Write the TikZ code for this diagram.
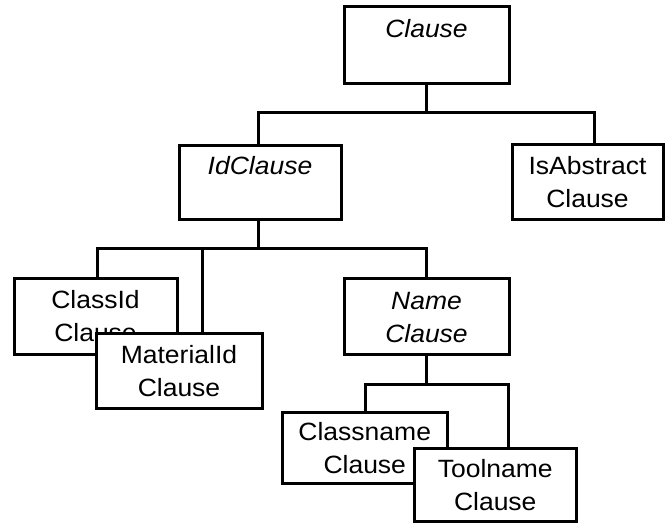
\documentclass[tikz,border=0pt]{standalone}
\usepackage{fontspec}
\setmainfont{Liberation Sans}[FakeStretch=1.06]
\newcommand\mystrut{\rule[-7.5pt]{0pt}{33pt}}
\begin{document}
\begin{tikzpicture}[x=1pt,y=-1pt,
  box/.style={draw,line width=3pt,fill=white,inner sep=0pt,align=center,
    font=\fontsize{25pt}{33pt}\selectfont},
  conn/.style={line width=3pt,line cap=rect}]
\useasboundingbox (0,0) rectangle (665,523);
% junction coordinates
\coordinate (j1) at (426,112.5);
\coordinate (j1l) at (258,112.5);
\coordinate (j1r) at (594,112.5);
\coordinate (j2) at (258,248);
\coordinate (j2l) at (97,248);
\coordinate (j2m) at (202,248);
\coordinate (j2r) at (426,248);
\coordinate (j3) at (426,384);
\coordinate (j3l) at (365.5,384);
\coordinate (j3r) at (508,384);
% connectors
\draw[conn] (j1l) -- (j1r);
\draw[conn] (j2l) -- (j2r);
\draw[conn] (j3l) -- (j3r);
\node[box,minimum width=165pt,minimum height=77pt] (clause) at (426.5,44.5) {\mystrut\textit{Clause}\\\mystrut};
\node[box,minimum width=162pt,minimum height=74pt] (idc) at (260,182) {\mystrut\textit{IdClause}\\\mystrut};
\node[box,minimum width=151pt,minimum height=75pt] (isab) at (587.5,181.5) {\mystrut IsAbstract\\\mystrut Clause};
\draw[conn] (clause.south -| j1) -- (j1);
\draw[conn] (j1l) -- (j1l |- idc.north);
\draw[conn] (j1r) -- (j1r |- isab.north);
\draw[conn] (idc.south -| j2) -- (j2);
\node[box,minimum width=165pt,minimum height=76pt] (nmc) at (426.5,316.5) {\mystrut\textit{Name}\\\mystrut\textit{Clause}};
\draw[conn] (j2r) -- (j2r |- nmc.north);
\draw[conn] (nmc.south -| j3) -- (j3);
\node[box,minimum width=163pt,minimum height=76pt] (cid) at (95.5,316) {\mystrut ClassId\\\mystrut Clause};
\draw[conn] (j2l) -- (j2l |- cid.north);
\node[box,minimum width=166pt,minimum height=75pt] (mid) at (179,370.5) {\mystrut MaterialId\\\mystrut Clause};
\draw[conn] (j2m) -- (j2m |- mid.north);
\node[box,minimum width=164.5pt,minimum height=71pt] (cnm) at (364.75,447.5) {\mystrut Classname\\\mystrut Clause};
\draw[conn] (j3l) -- (j3l |- cnm.north);
\node[box,minimum width=162.5pt,minimum height=73pt] (tnm) at (495.25,484.5) {\mystrut Toolname\\\mystrut Clause};
\draw[conn] (j3r) -- (j3r |- tnm.north);
\end{tikzpicture}
\end{document}
